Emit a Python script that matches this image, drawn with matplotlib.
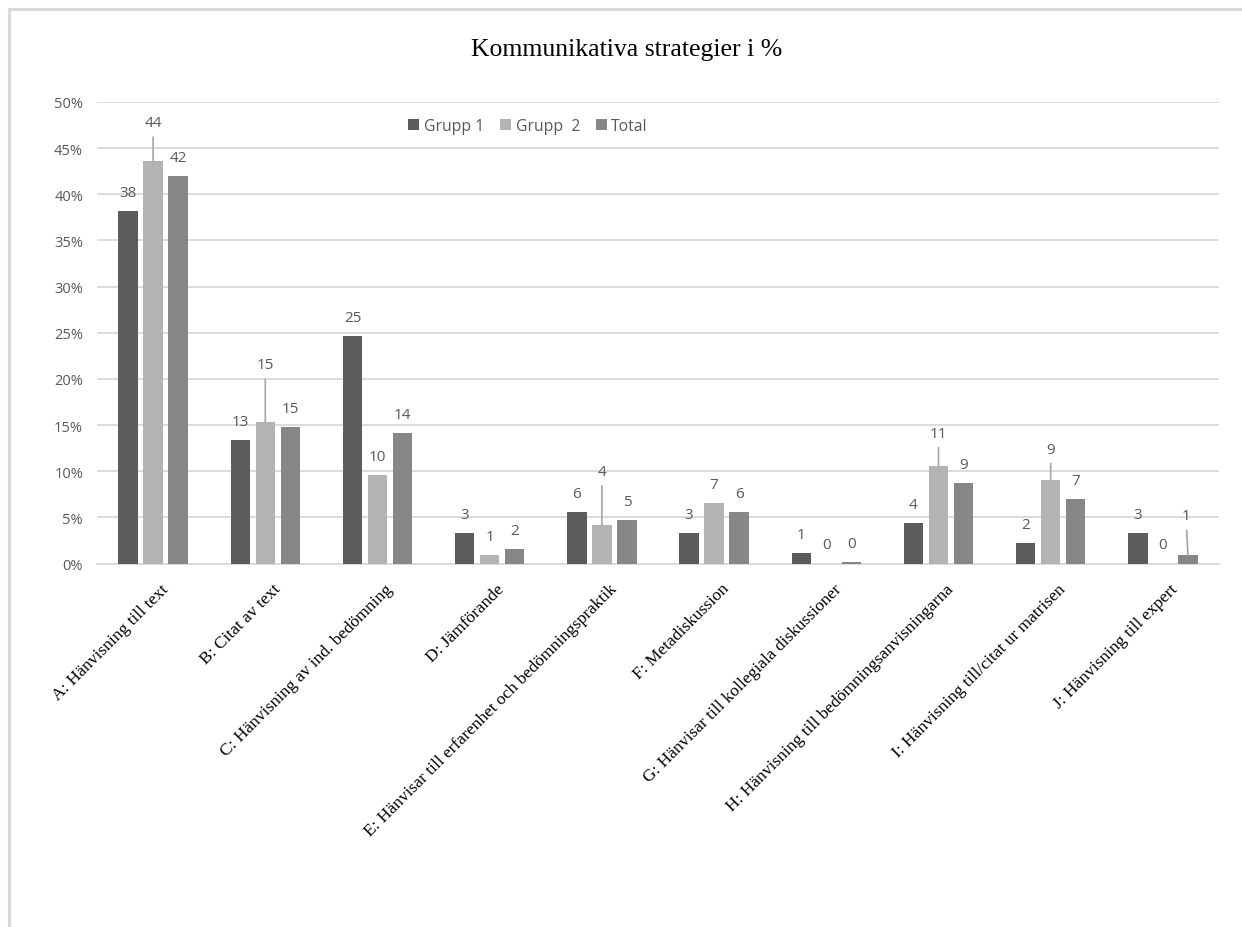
import matplotlib
matplotlib.use('Agg')
import matplotlib.pyplot as plt
from matplotlib.patches import Rectangle
from matplotlib.transforms import ScaledTranslation
import numpy as np

# Kategorier och andelar (i %) per grupp
kategorier = [
    'A: Hänvisning till text',
    'B: Citat av text',
    'C: Hänvisning av ind. bedömning',
    'D: Jämförande',
    'E: Hänvisar till erfarenhet och bedömningspraktik',
    'F: Metadiskussion',
    'G: Hänvisar till kollegiala diskussioner',
    'H: Hänvisning till bedömningsanvisningarna',
    'I: Hänvisning till/citat ur matrisen',
    'J: Hänvisning till expert',
]
grupp1 = [38.2, 13.4, 24.6, 3.3, 5.6, 3.3, 1.1, 4.4, 2.2, 3.3]
grupp2 = [43.6, 15.3, 9.6, 0.9, 4.2, 6.6, 0.0, 10.6, 9.1, 0.0]
total = [42.0, 14.8, 14.1, 1.6, 4.7, 5.6, 0.2, 8.7, 7.0, 0.9]
serier = ['Grupp 1', 'Grupp  2', 'Total']
yticks = [0, 5, 10, 15, 20, 25, 30, 35, 40, 45, 50]

farger = ['#5c5c5c', '#b3b3b3', '#878787']
textfarg = '#595959'
linjefarg = '#a6a6a6'

# etiketter som lyfts upp med hänvisningslinje: (serie, kategori) -> (dx, dy) i pixlar
lyfta = {
    (1, 0): (0, 31),
    (1, 1): (0, 50),
    (1, 4): (0, 46),
    (1, 7): (0, 25),
    (1, 8): (0, 23),
    (2, 9): (-2, 32),
}
standard_dy = 11

fig = plt.figure(figsize=(12.42, 9.28), dpi=100)
fig.patch.set_facecolor('white')

# ram runt diagramytan
fig.patches.append(Rectangle((9 / 1242, -0.1), 1.2, 1 - 10 / 928 + 0.1,
                             transform=fig.transFigure, fill=False,
                             edgecolor='#d9d9d9', linewidth=2.2))

ax = fig.add_axes([97 / 1242, 1 - 564.5 / 928, (1219 - 97) / 1242, (564.5 - 103) / 928])

x = np.arange(len(kategorier))
bredd = 0.174
steg = 0.223
data = [grupp1, grupp2, total]
for i, (varden, farg, namn) in enumerate(zip(data, farger, serier)):
    pos = x + (i - 1) * steg
    ax.bar(pos, varden, width=bredd, color=farg, label=namn, zorder=3)
    for j, (px, v) in enumerate(zip(pos, varden)):
        dx, dy = lyfta.get((i, j), (0, standard_dy))
        kw = {}
        if (i, j) in lyfta:
            kw['arrowprops'] = dict(arrowstyle='-', color=linjefarg, lw=1.2,
                                    shrinkA=3, shrinkB=0)
        ax.annotate(f'{v:.0f}', xy=(px, v), xytext=(dx, dy),
                    textcoords='offset pixels', ha='center', va='bottom',
                    fontsize=11, color=textfarg, family='Open Sans', **kw)

ax.set_xlim(-0.5, len(kategorier) - 0.5)
ax.set_ylim(0, 50)
ax.set_yticks(yticks)
ax.set_yticklabels([f'{t}%' for t in yticks], family='Open Sans',
                   fontsize=10.5, color=textfarg)
ax.yaxis.grid(True, color='#d9d9d9', linewidth=1.3, zorder=0)
ax.set_axisbelow(True)
for s in ['top', 'right', 'left']:
    ax.spines[s].set_visible(False)
ax.spines['bottom'].set_color('#d9d9d9')
ax.spines['bottom'].set_linewidth(1.3)
ax.tick_params(axis='both', length=0)
ax.tick_params(axis='y', pad=10)

ax.set_xticks(x)
ax.set_xticklabels(kategorier, rotation=45, ha='right', va='top',
                   rotation_mode='anchor', family='Liberation Serif',
                   fontsize=12.5, color='black')
forskjut = ScaledTranslation(7 / 100, -12 / 100, fig.dpi_scale_trans)
for lbl in ax.get_xticklabels():
    lbl.set_transform(lbl.get_transform() + forskjut)

fig.text(627 / 1242, 1 - 50 / 928, 'Kommunikativa strategier i %', ha='center',
         va='center', family='Liberation Serif', fontsize=18.5)

leg = ax.legend(loc='center', bbox_to_anchor=(528 / 1242, 1 - 127 / 928),
                bbox_transform=fig.transFigure, ncol=3, frameon=False,
                handlelength=0.7, handleheight=0.7, handletextpad=0.3,
                columnspacing=1.0, prop={'family': 'Open Sans', 'size': 11.3})
for t in leg.get_texts():
    t.set_color(textfarg)

fig.savefig('out.png', dpi=100)
